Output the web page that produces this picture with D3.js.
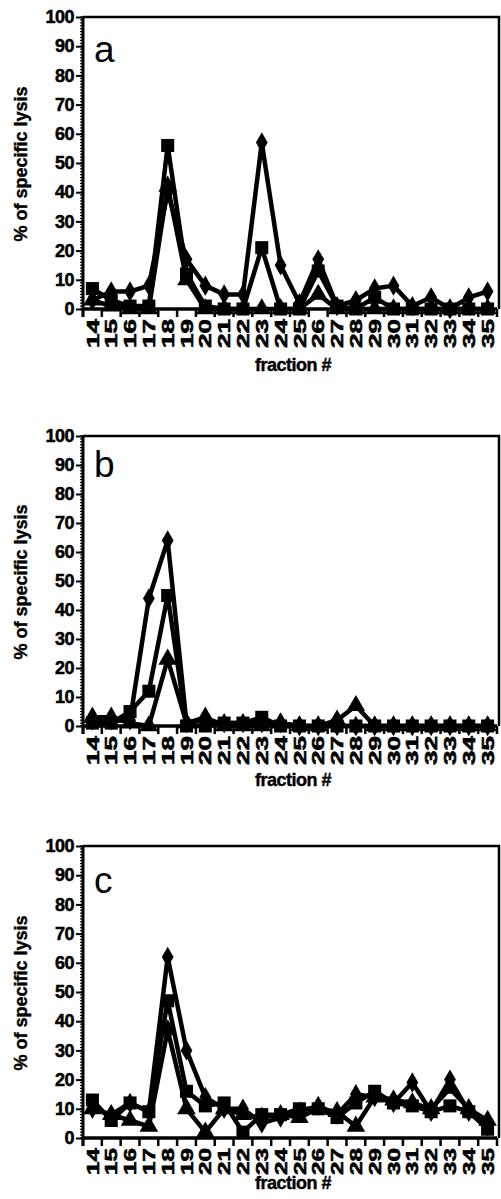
<!DOCTYPE html>
<html><head><meta charset="utf-8">
<script src="https://cdn.jsdelivr.net/npm/d3@7"></script>
<style>body{margin:0;background:#fff}svg{display:block}</style>
</head><body>
<script>
const fractions = ["14","15","16","17","18","19","20","21","22","23","24","25","26","27","28","29","30","31","32","33","34","35"];
const yTicks = [0,10,20,30,40,50,60,70,80,90,100];
const panelLetters = ["a","b","c"];

const aDiamond  = [3,6,6,8,40,17,8,5,5,57,15,2,17,1,3,7,8,1,4,0,4,6];
const aSquare   = [7,3,1,1,56,12,1,0,0,21,0,0,13,1,0,4,0,0,0,0,0,0];
const aTriangle = [3,1,0,0,42,10,0,0,0,0,0,0,5,0,0,0,0,0,0,0,0,0];

const bDiamond  = [2,2,2,44,64,1,2,1,1,1,1,0,0,0,0,0,0,0,0,0,0,0];
const bSquare   = [1,1,5,12,45,0,0,1,1,3,0,0,0,0,0,0,0,0,0,0,0,0];
const bTriangle = [3,3,1,0,23,1,3,0,0,0,1,0,0,2,7,0,0,0,0,0,0,0];

const cDiamond  = [10,8,12,9,62,30,14,10,10,5,7,9,11,8,15,14,12,19,9,20,9,4];
const cSquare   = [13,6,12,9,47,16,11,12,2,8,8,10,10,7,12,16,12,11,9,11,9,3];
const cTriangle = [10,8,6,4,37,10,2,10,8,7,8,7,10,9,4,14,13,12,10,17,10,6];

const panels = [
  {letter: panelLetters[0], diamond: aDiamond, square: aSquare, triangle: aTriangle, top: 17, bottom: 309, letterY: 62, labLen: 29, fracY: 371},
  {letter: panelLetters[1], diamond: bDiamond, square: bSquare, triangle: bTriangle, top: 436, bottom: 726, letterY: 477, labLen: 29, fracY: 786},
  {letter: panelLetters[2], diamond: cDiamond, square: cSquare, triangle: cTriangle, top: 846, bottom: 1138, letterY: 893, labLen: 27, fracY: 1189}
];

const W = 501, H = 1199;
const left = 83, right = 497;
const svg = d3.select("body").append("svg").attr("width", W).attr("height", H);
const x = d3.scaleBand().domain(fractions).range([left, right]).padding(0);
const font = "'Liberation Sans', Arial, Helvetica, sans-serif";

panels.forEach(p => {
  const y = d3.scaleLinear().domain([0, 100]).range([p.bottom, p.top]);
  const g = svg.append("g");

  g.append("path").attr("d", `M${left},${p.top}H${right+2}V${p.bottom}`)
    .attr("fill","none").attr("stroke","#000").attr("stroke-width",2.5);

  g.selectAll(".minor").data(d3.range(0, 101, 1)).join("line")
    .attr("x1", left - 3).attr("x2", left).attr("y1", d => y(d)).attr("y2", d => y(d))
    .attr("stroke", "#000").attr("stroke-width", 1.2);

  const ya = d3.axisLeft(y).tickValues(yTicks).tickSize(7).tickPadding(2);
  const yg = g.append("g").attr("transform", `translate(${left},0)`).call(ya);
  yg.select(".domain").attr("stroke-width", 3).attr("d", `M0,${p.top}V${p.bottom+8}`);
  yg.selectAll(".tick line").attr("stroke-width", 2);
  yg.selectAll("text").attr("font-family", font).attr("font-weight", "bold")
    .attr("font-size", 18).attr("fill", "#000").attr("letter-spacing", -0.5)
    .attr("stroke", "#000").attr("stroke-width", 0.5);

  const boundaries = fractions.map(f => x(f)).concat([right]);
  g.append("line").attr("x1", left).attr("x2", right).attr("y1", p.bottom).attr("y2", p.bottom)
    .attr("stroke", "#000").attr("stroke-width", 3.5);
  g.selectAll(".xt").data(boundaries).join("line")
    .attr("x1", d => d).attr("x2", d => d).attr("y1", p.bottom).attr("y2", p.bottom + 8)
    .attr("stroke", "#000").attr("stroke-width", 2.5);
  g.selectAll(".xl").data(fractions).join("text")
    .attr("transform", d => `translate(${x(d) + x.bandwidth()/2},${p.bottom + 10}) rotate(-90)`)
    .attr("text-anchor", "end").attr("dy", "0.36em")
    .attr("font-family", font).attr("font-weight", "bold").attr("font-size", 17)
    .attr("stroke", "#000").attr("stroke-width", 0.6)
    .attr("textLength", p.labLen).attr("lengthAdjust", "spacingAndGlyphs")
    .text(d => d);
  g.append("text").attr("x", 293).attr("y", p.fracY).attr("text-anchor", "middle")
    .attr("font-family", font).attr("font-weight", "bold").attr("font-size", 18)
    .attr("stroke", "#000").attr("stroke-width", 0.4)
    .attr("letter-spacing", -0.5).text("fraction #");

  g.append("text").attr("transform", `translate(27,${(p.top + p.bottom)/2 + 1}) rotate(-90)`)
    .attr("text-anchor", "middle").attr("font-family", font).attr("font-weight", "bold")
    .attr("stroke", "#000").attr("stroke-width", 0.4)
    .attr("font-size", 18).text("% of specific lysis");

  g.append("text").attr("x", 94).attr("y", p.letterY).attr("font-family", font)
    .attr("font-size", 37).text(p.letter);

  const cx = f => x(f) + x.bandwidth()/2;
  const line = d3.line().x((d, i) => cx(fractions[i])).y(d => y(d));
  const seriesList = [
    {vals: p.triangle, sym: d3.symbolTriangle, size: 150},
    {vals: p.diamond, sym: d3.symbolDiamond, size: 120},
    {vals: p.square, sym: d3.symbolSquare, size: 170}
  ];
  seriesList.forEach(s => {
    g.append("path").attr("d", line(s.vals)).attr("fill", "none")
      .attr("stroke", "#000").attr("stroke-width", 4.5).attr("stroke-linejoin", "round");
  });
  seriesList.forEach(s => {
    g.selectAll(null).data(s.vals).join("path")
      .attr("transform", (d, i) => `translate(${cx(fractions[i])},${y(d)})`)
      .attr("d", d3.symbol().type(s.sym).size(s.size)).attr("fill", "#000");
  });
});
</script>
</body></html>
